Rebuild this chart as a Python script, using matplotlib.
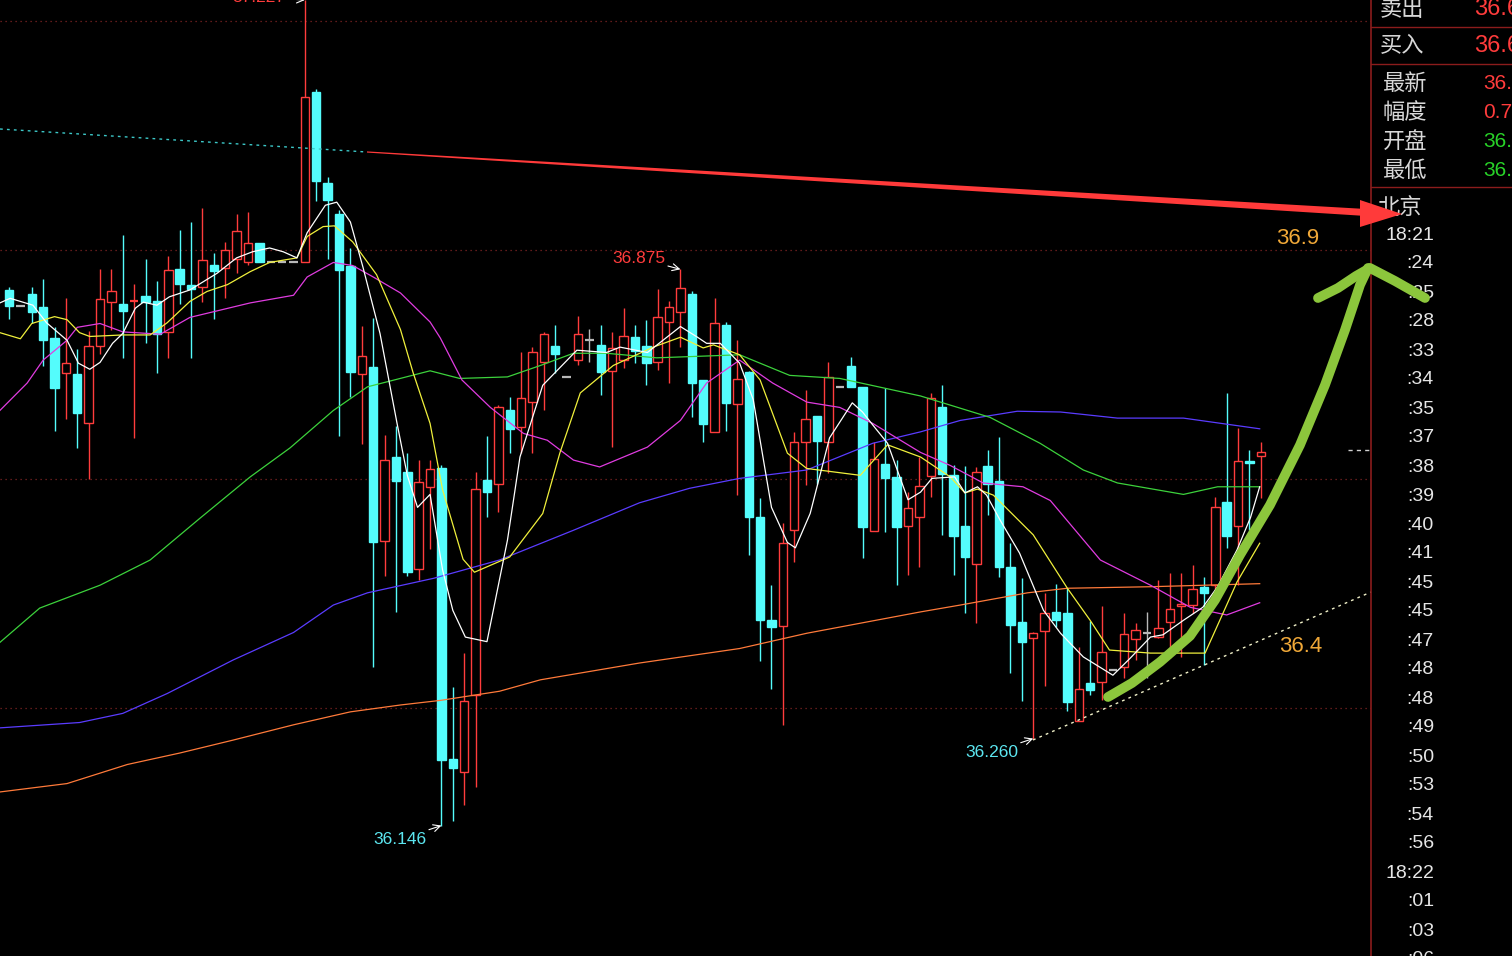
import matplotlib
matplotlib.use("Agg")
import matplotlib.pyplot as plt
from matplotlib.patches import Rectangle, Polygon

# ---- bar data (one bar per tick, left to right) ----
opens = [36.848, 36.827, 36.843, 36.825, 36.785, 36.739, 36.738, 36.673, 36.774, 36.832,
         36.829, 36.833, 36.840, 36.833, 36.793, 36.875, 36.854, 36.852, 36.881, 36.877,
         36.888, 36.884, 36.909, 36.884, 36.884, 36.884, 36.884, 37.107, 36.988, 36.947,
         36.879, 36.738, 36.747, 36.519, 36.629, 36.609, 36.482, 36.590, 36.614, 36.233,
         36.216, 36.317, 36.599, 36.593, 36.690, 36.668, 36.701, 36.753, 36.774, 36.734,
         36.756, 36.782, 36.776, 36.742, 36.756, 36.786, 36.774, 36.753, 36.806, 36.819,
         36.843, 36.730, 36.662, 36.802, 36.698, 36.740, 36.550, 36.416, 36.407, 36.533,
         36.649, 36.683, 36.649, 36.721, 36.748, 36.721, 36.532, 36.620, 36.603, 36.538,
         36.551, 36.604, 36.694, 36.605, 36.538, 36.489, 36.617, 36.597, 36.485, 36.413,
         36.392, 36.401, 36.426, 36.424, 36.283, 36.333, 36.334, 36.350, 36.354, 36.390,
         36.398, 36.393, 36.413, 36.434, 36.435, 36.458, 36.461, 36.570, 36.538, 36.624,
         36.630]
closes = [36.827, 36.827, 36.819, 36.782, 36.719, 36.752, 36.687, 36.774, 36.836, 36.846,
          36.820, 36.833, 36.832, 36.790, 36.874, 36.856, 36.849, 36.887, 36.873, 36.900,
          36.925, 36.909, 36.884, 36.884, 36.884, 36.884, 37.101, 36.991, 36.966, 36.874,
          36.740, 36.761, 36.517, 36.625, 36.597, 36.478, 36.596, 36.613, 36.232, 36.221,
          36.309, 36.587, 36.583, 36.694, 36.666, 36.706, 36.766, 36.790, 36.764, 36.734,
          36.790, 36.782, 36.740, 36.772, 36.787, 36.768, 36.752, 36.812, 36.825, 36.850,
          36.726, 36.672, 36.805, 36.700, 36.731, 36.550, 36.416, 36.406, 36.516, 36.649,
          36.679, 36.650, 36.734, 36.721, 36.721, 36.537, 36.626, 36.601, 36.537, 36.562,
          36.591, 36.706, 36.607, 36.525, 36.498, 36.610, 36.593, 36.485, 36.409, 36.386,
          36.398, 36.424, 36.416, 36.308, 36.325, 36.323, 36.373, 36.350, 36.397, 36.402,
          36.398, 36.405, 36.430, 36.437, 36.456, 36.451, 36.563, 36.525, 36.624, 36.621,
          36.635]
highs = [36.852, 36.827, 36.852, 36.862, 36.799, 36.837, 36.770, 36.794, 36.875, 36.875,
         36.920, 36.856, 36.888, 36.860, 36.892, 36.926, 36.937, 36.955, 36.896, 36.911,
         36.947, 36.950, 36.909, 36.884, 36.884, 36.884, 37.228, 37.111, 36.996, 36.953,
         36.903, 36.801, 36.811, 36.658, 36.669, 36.634, 36.625, 36.625, 36.618, 36.327,
         36.372, 36.610, 36.656, 36.697, 36.708, 36.766, 36.773, 36.793, 36.802, 36.734,
         36.814, 36.797, 36.802, 36.793, 36.824, 36.802, 36.808, 36.849, 36.833, 36.875,
         36.846, 36.730, 36.837, 36.806, 36.782, 36.742, 36.575, 36.461, 36.542, 36.662,
         36.717, 36.683, 36.753, 36.721, 36.760, 36.721, 36.649, 36.719, 36.625, 36.583,
         36.629, 36.713, 36.723, 36.618, 36.617, 36.616, 36.638, 36.655, 36.516, 36.470,
         36.400, 36.451, 36.462, 36.457, 36.380, 36.414, 36.434, 36.350, 36.424, 36.411,
         36.426, 36.468, 36.477, 36.477, 36.487, 36.472, 36.576, 36.713, 36.667, 36.638,
         36.649]
lows = [36.810, 36.827, 36.805, 36.748, 36.663, 36.679, 36.641, 36.600, 36.764, 36.795,
        36.759, 36.654, 36.778, 36.739, 36.759, 36.829, 36.759, 36.832, 36.810, 36.837,
        36.870, 36.881, 36.884, 36.884, 36.884, 36.884, 36.884, 36.964, 36.888, 36.656,
        36.708, 36.646, 36.354, 36.473, 36.426, 36.473, 36.468, 36.508, 36.146, 36.152,
        36.173, 36.196, 36.550, 36.557, 36.634, 36.634, 36.634, 36.690, 36.739, 36.734,
        36.749, 36.753, 36.710, 36.642, 36.746, 36.752, 36.723, 36.743, 36.726, 36.773,
        36.681, 36.649, 36.662, 36.663, 36.579, 36.500, 36.361, 36.325, 36.278, 36.491,
        36.592, 36.593, 36.608, 36.721, 36.721, 36.496, 36.532, 36.531, 36.461, 36.475,
        36.485, 36.576, 36.527, 36.475, 36.424, 36.411, 36.553, 36.472, 36.346, 36.309,
        36.260, 36.329, 36.406, 36.296, 36.283, 36.317, 36.310, 36.350, 36.340, 36.363,
        36.339, 36.392, 36.365, 36.367, 36.424, 36.357, 36.454, 36.510, 36.461, 36.534,
        36.575]

# ---- moving averages (bar position, price) ----
ma5_x = [-0.8, 0.1, 2.1, 3.3, 5.1, 6.1, 7.1, 8.0, 9.1, 10.0, 11.1, 11.8, 13.0, 14.1, 15.9,
         18.3, 20.0, 21.4, 22.9, 24.1, 25.3, 26.2, 27.8, 28.8, 30.0, 31.1, 32.6, 34.1, 35.0,
         35.9, 37.0, 38.1, 39.0, 40.1, 42.0, 43.8, 44.9, 46.9, 49.9, 52.5, 53.7, 56.1, 59.0,
         60.5, 61.3, 62.5, 64.2, 65.4, 67.0, 68.4, 69.1, 70.4, 72.1, 74.1, 75.0, 75.9, 77.2,
         79.0, 80.1, 81.1, 83.1, 84.0, 85.1, 85.9, 87.1, 88.8, 90.9, 92.4, 94.4, 97.0, 98.5,
         100.3, 101.4, 103.2, 104.9, 106.2, 107.9, 109.1, 109.9]
ma5_y = [36.831, 36.837, 36.828, 36.805, 36.782, 36.752, 36.744, 36.753, 36.778, 36.791,
         36.824, 36.832, 36.828, 36.839, 36.848, 36.870, 36.890, 36.898, 36.903, 36.898,
         36.890, 36.923, 36.959, 36.963, 36.937, 36.878, 36.791, 36.673, 36.605, 36.563,
         36.580, 36.481, 36.428, 36.393, 36.387, 36.520, 36.629, 36.723, 36.769, 36.766,
         36.773, 36.766, 36.800, 36.786, 36.778, 36.778, 36.752, 36.704, 36.563, 36.517,
         36.510, 36.555, 36.654, 36.700, 36.688, 36.671, 36.647, 36.573, 36.583, 36.601,
         36.603, 36.582, 36.590, 36.579, 36.546, 36.503, 36.428, 36.398, 36.367, 36.343,
         36.365, 36.393, 36.396, 36.415, 36.432, 36.459, 36.507, 36.550, 36.590]

ma10_x = [-0.8, 1.0, 2.0, 4.0, 5.1, 6.2, 7.1, 10.0, 12.4, 13.9, 15.9, 17.4, 19.2, 21.2, 22.9,
          25.3, 26.2, 27.6, 28.6, 30.2, 32.3, 34.4, 35.5, 37.0, 38.1, 39.9, 40.9, 44.0, 46.9,
          48.4, 50.2, 53.1, 56.6, 59.0, 61.0, 61.9, 64.2, 66.0, 68.4, 70.1, 74.8, 77.2, 80.1,
          82.7, 84.0, 85.1, 86.5, 90.0, 93.0, 95.0, 96.7, 100.3, 105.1, 107.9, 109.9]
ma10_y = [36.792, 36.784, 36.804, 36.813, 36.809, 36.792, 36.787, 36.789, 36.789, 36.805,
          36.833, 36.846, 36.855, 36.872, 36.884, 36.890, 36.918, 36.931, 36.932, 36.911,
          36.868, 36.796, 36.740, 36.673, 36.586, 36.495, 36.478, 36.498, 36.555, 36.634,
          36.713, 36.749, 36.773, 36.786, 36.772, 36.776, 36.763, 36.730, 36.634, 36.614,
          36.605, 36.645, 36.629, 36.603, 36.582, 36.587, 36.579, 36.527, 36.457, 36.415,
          36.376, 36.372, 36.372, 36.465, 36.516]

ma20_x = [-0.8, 1.6, 3.0, 5.1, 6.0, 8.0, 10.0, 13.3, 15.9, 21.2, 25.0, 26.2, 28.5, 30.2, 32.0,
          34.4, 37.0, 37.9, 39.8, 42.3, 45.2, 47.3, 49.6, 51.9, 56.1, 59.0, 61.3, 64.2, 67.1,
          70.1, 73.0, 75.9, 80.1, 82.7, 85.6, 89.1, 91.5, 95.9, 100.3, 103.8, 107.0, 109.9]
ma20_y = [36.690, 36.726, 36.756, 36.782, 36.799, 36.804, 36.793, 36.790, 36.812, 36.831,
          36.841, 36.865, 36.884, 36.880, 36.865, 36.844, 36.806, 36.785, 36.730, 36.694,
          36.660, 36.651, 36.625, 36.616, 36.642, 36.677, 36.726, 36.756, 36.726, 36.701,
          36.694, 36.673, 36.635, 36.618, 36.595, 36.590, 36.572, 36.494, 36.461, 36.432,
          36.422, 36.438]

ma30_x = [-0.8, 2.7, 8.0, 12.4, 16.8, 21.2, 24.7, 28.5, 31.5, 37.0, 39.6, 43.8, 46.7, 49.6,
          52.5, 56.9, 64.2, 68.6, 73.0, 80.1, 86.2, 90.6, 94.4, 97.4, 103.2, 106.2, 109.9]
ma30_y = [36.386, 36.431, 36.461, 36.494, 36.549, 36.603, 36.641, 36.690, 36.721, 36.742,
          36.732, 36.734, 36.749, 36.765, 36.765, 36.759, 36.763, 36.736, 36.732, 36.709,
          36.681, 36.647, 36.612, 36.595, 36.580, 36.590, 36.590]

ma60_x = [-0.8, 6.2, 10.0, 13.9, 19.7, 25.0, 28.5, 31.5, 37.3, 43.1, 49.6, 55.4, 59.8, 64.2,
          70.1, 75.9, 80.1, 83.6, 88.6, 92.4, 97.4, 103.2, 109.9]
ma60_y = [36.274, 36.281, 36.293, 36.319, 36.363, 36.399, 36.435, 36.451, 36.470, 36.494,
          36.533, 36.569, 36.588, 36.601, 36.612, 36.647, 36.662, 36.677, 36.689, 36.688,
          36.680, 36.680, 36.666]

ma120_x = [-0.8, 5.1, 10.4, 15.0, 19.7, 25.0, 30.0, 34.4, 37.9, 43.1, 46.7, 55.4, 64.2, 70.1,
           80.1, 83.6, 89.5, 93.0, 100.3, 109.9]
ma120_y = [36.190, 36.201, 36.226, 36.241, 36.258, 36.278, 36.295, 36.304, 36.310, 36.322,
           36.337, 36.359, 36.378, 36.398, 36.426, 36.435, 36.451, 36.457, 36.459, 36.463]

grid_levels = [36.3, 36.6, 36.9, 37.2]

time_labels = ["18:21", ":24", ":25", ":28", ":33", ":34", ":35", ":37", ":38", ":39",
               ":40", ":41", ":45", ":45", ":47", ":48", ":48", ":49", ":50", ":53",
               ":54", ":56", "18:22", ":01", ":03", ":06"]
quote_names = ["卖出", "买入", "最新", "幅度", "开盘", "最低"]
quote_values = ["36.6", "36.6", "36.", "0.7", "36.", "36."]

UP = "#ff3c3c"
DOWN = "#54fcfc"
FLAT = "#b8b8b8"
NUM_FONT = ["Liberation Sans", "DejaVu Sans"]
CJK_FONT = ["Noto Sans CJK SC", "DejaVu Sans"]

fig = plt.figure(figsize=(15.12, 9.56), dpi=100, facecolor="black")
ax = fig.add_axes([0, 0, 1371 / 1512, 1])
ax.set_facecolor("black")
ax.set_xlim(-0.79, 119.68)
ax.set_ylim(35.975, 37.228)
ax.axis("off")

for lvl in grid_levels:
    ax.axhline(lvl, color="#802424", lw=0.9, ls=(0, (1, 3)), zorder=1)

W = 0.74
for i, (o, h, l, c) in enumerate(zip(opens, highs, lows, closes)):
    prev = closes[i - 1] if i else c
    if c > o or (c == o and c > prev):
        col = UP
    elif c < o:
        col = DOWN
    else:
        col = FLAT
    if h > l:
        ax.vlines(i, l, h, color=col, lw=1.0, zorder=2)
    if c == o:
        ax.hlines(c, i - W / 2, i + W / 2, color=col, lw=1.6, zorder=3)
    elif c > o:
        ax.add_patch(Rectangle((i - W / 2, o), W, c - o, facecolor="black",
                               edgecolor=col, lw=1.0, zorder=3))
    else:
        ax.add_patch(Rectangle((i - W / 2, c), W, o - c, facecolor=col,
                               edgecolor=col, lw=1.0, zorder=3))

ax.plot(ma120_x, ma120_y, color="#ff7a3a", lw=0.9, zorder=4)
ax.plot(ma60_x, ma60_y, color="#5a3cff", lw=0.9, zorder=4)
ax.plot(ma30_x, ma30_y, color="#3cd23c", lw=0.9, zorder=4)
ax.plot(ma20_x, ma20_y, color="#e03ce0", lw=0.9, zorder=4)
ax.plot(ma10_x, ma10_y, color="#f0f03c", lw=0.9, zorder=4)
ax.plot(ma5_x, ma5_y, color="#ffffff", lw=0.9, zorder=5)

# high / low marks
arrow = dict(arrowstyle="->", color="white", lw=0.8, shrinkA=0, shrinkB=0)
ax.annotate("37.227", xy=(26, highs[26]), xytext=(-14, 2), textcoords="offset points",
            ha="right", va="center", color=UP, fontsize=12.5, family=NUM_FONT,
            arrowprops=arrow, annotation_clip=False)
ax.annotate("36.875", xy=(59, highs[59]), xytext=(-11, 8), textcoords="offset points",
            ha="right", va="center", color=UP, fontsize=12.5, family=NUM_FONT,
            arrowprops=arrow)
ax.annotate("36.146", xy=(38, lows[38]), xytext=(-11, -10), textcoords="offset points",
            ha="right", va="center", color="#5ce6f0", fontsize=12.5, family=NUM_FONT,
            arrowprops=arrow)
ax.annotate("36.260", xy=(90, lows[90]), xytext=(-11, -10), textcoords="offset points",
            ha="right", va="center", color="#5ce6f0", fontsize=12.5, family=NUM_FONT,
            arrowprops=arrow)

# ---- overlay in pixel space: drawn notes and the side panel ----
ov = fig.add_axes([0, 0, 1, 1])
ov.set_xlim(0, 1512)
ov.set_ylim(956, 0)
ov.axis("off")
ov.patch.set_alpha(0)

ov.plot([0, 367], [129, 152], color="#3cc8c8", lw=1.0, ls=(0, (2, 3)))
ov.add_patch(Polygon([(367, 151.4), (1366, 209), (1366, 216), (367, 152.6)],
                     closed=True, facecolor="#ff3a3a", edgecolor="none"))
ov.add_patch(Polygon([(1360, 200), (1402, 214), (1360, 227)], closed=True,
                     facecolor="#ff3a3a", edgecolor="none", zorder=6))

ov.plot([1033, 1371], [740, 592], color="#f0f0c8", lw=1.0, ls=(0, (2, 3)))
ov.plot([1348, 1370], [450, 450], color="#d0d0d0", lw=1.0, ls=(0, (3, 3)))

green = "#8cc63c"
ov.plot([1108, 1132, 1160, 1190, 1215, 1240, 1270, 1300, 1325, 1345, 1360, 1368],
        [697, 683, 662, 636, 600, 555, 505, 445, 385, 330, 285, 268],
        color=green, lw=7, solid_capstyle="round", solid_joinstyle="round", zorder=5)
ov.plot([1318, 1338, 1356, 1370, 1395, 1425], [298, 288, 276, 268, 281, 298],
        color=green, lw=7, solid_capstyle="round", solid_joinstyle="round", zorder=5)

ov.text(1276, 238, "36.9", color="#f0a838", fontsize=16, family=NUM_FONT, va="center")
ov.text(1279, 646, "36.4", color="#f0a838", fontsize=16, family=NUM_FONT, va="center")

# side panel
panel_line = "#8b1c1c"
ov.plot([1371, 1371], [0, 956], color=panel_line, lw=1.2)
for yy in [27, 64, 187]:
    ov.plot([1371, 1512], [yy, yy], color=panel_line, lw=1.0)

name_y = [9, 46, 83, 112, 141, 170]
value_col = [UP, UP, UP, UP, "#28d228", "#28d228"]
for k, (nm, val) in enumerate(zip(quote_names, quote_values)):
    big = k < 2
    ov.text(1380 if big else 1383, name_y[k], nm, color="#d8d8d8",
            fontsize=16, family=CJK_FONT, va="center", ha="left")
    ov.text(1474 if big else 1483, name_y[k], val, color=value_col[k],
            fontsize=17 if big else 15, family=NUM_FONT, va="center", ha="left")

ov.text(1377, 207, "北京", color="#d8d8d8", fontsize=16, family=CJK_FONT,
        va="center", ha="left", zorder=4)
for k, t in enumerate(time_labels):
    ov.text(1434, 235 + 29 * k, t, color="#e6e6e6", fontsize=14, family=NUM_FONT,
            va="center", ha="right")

fig.savefig("out.png", dpi=100, facecolor="black")
